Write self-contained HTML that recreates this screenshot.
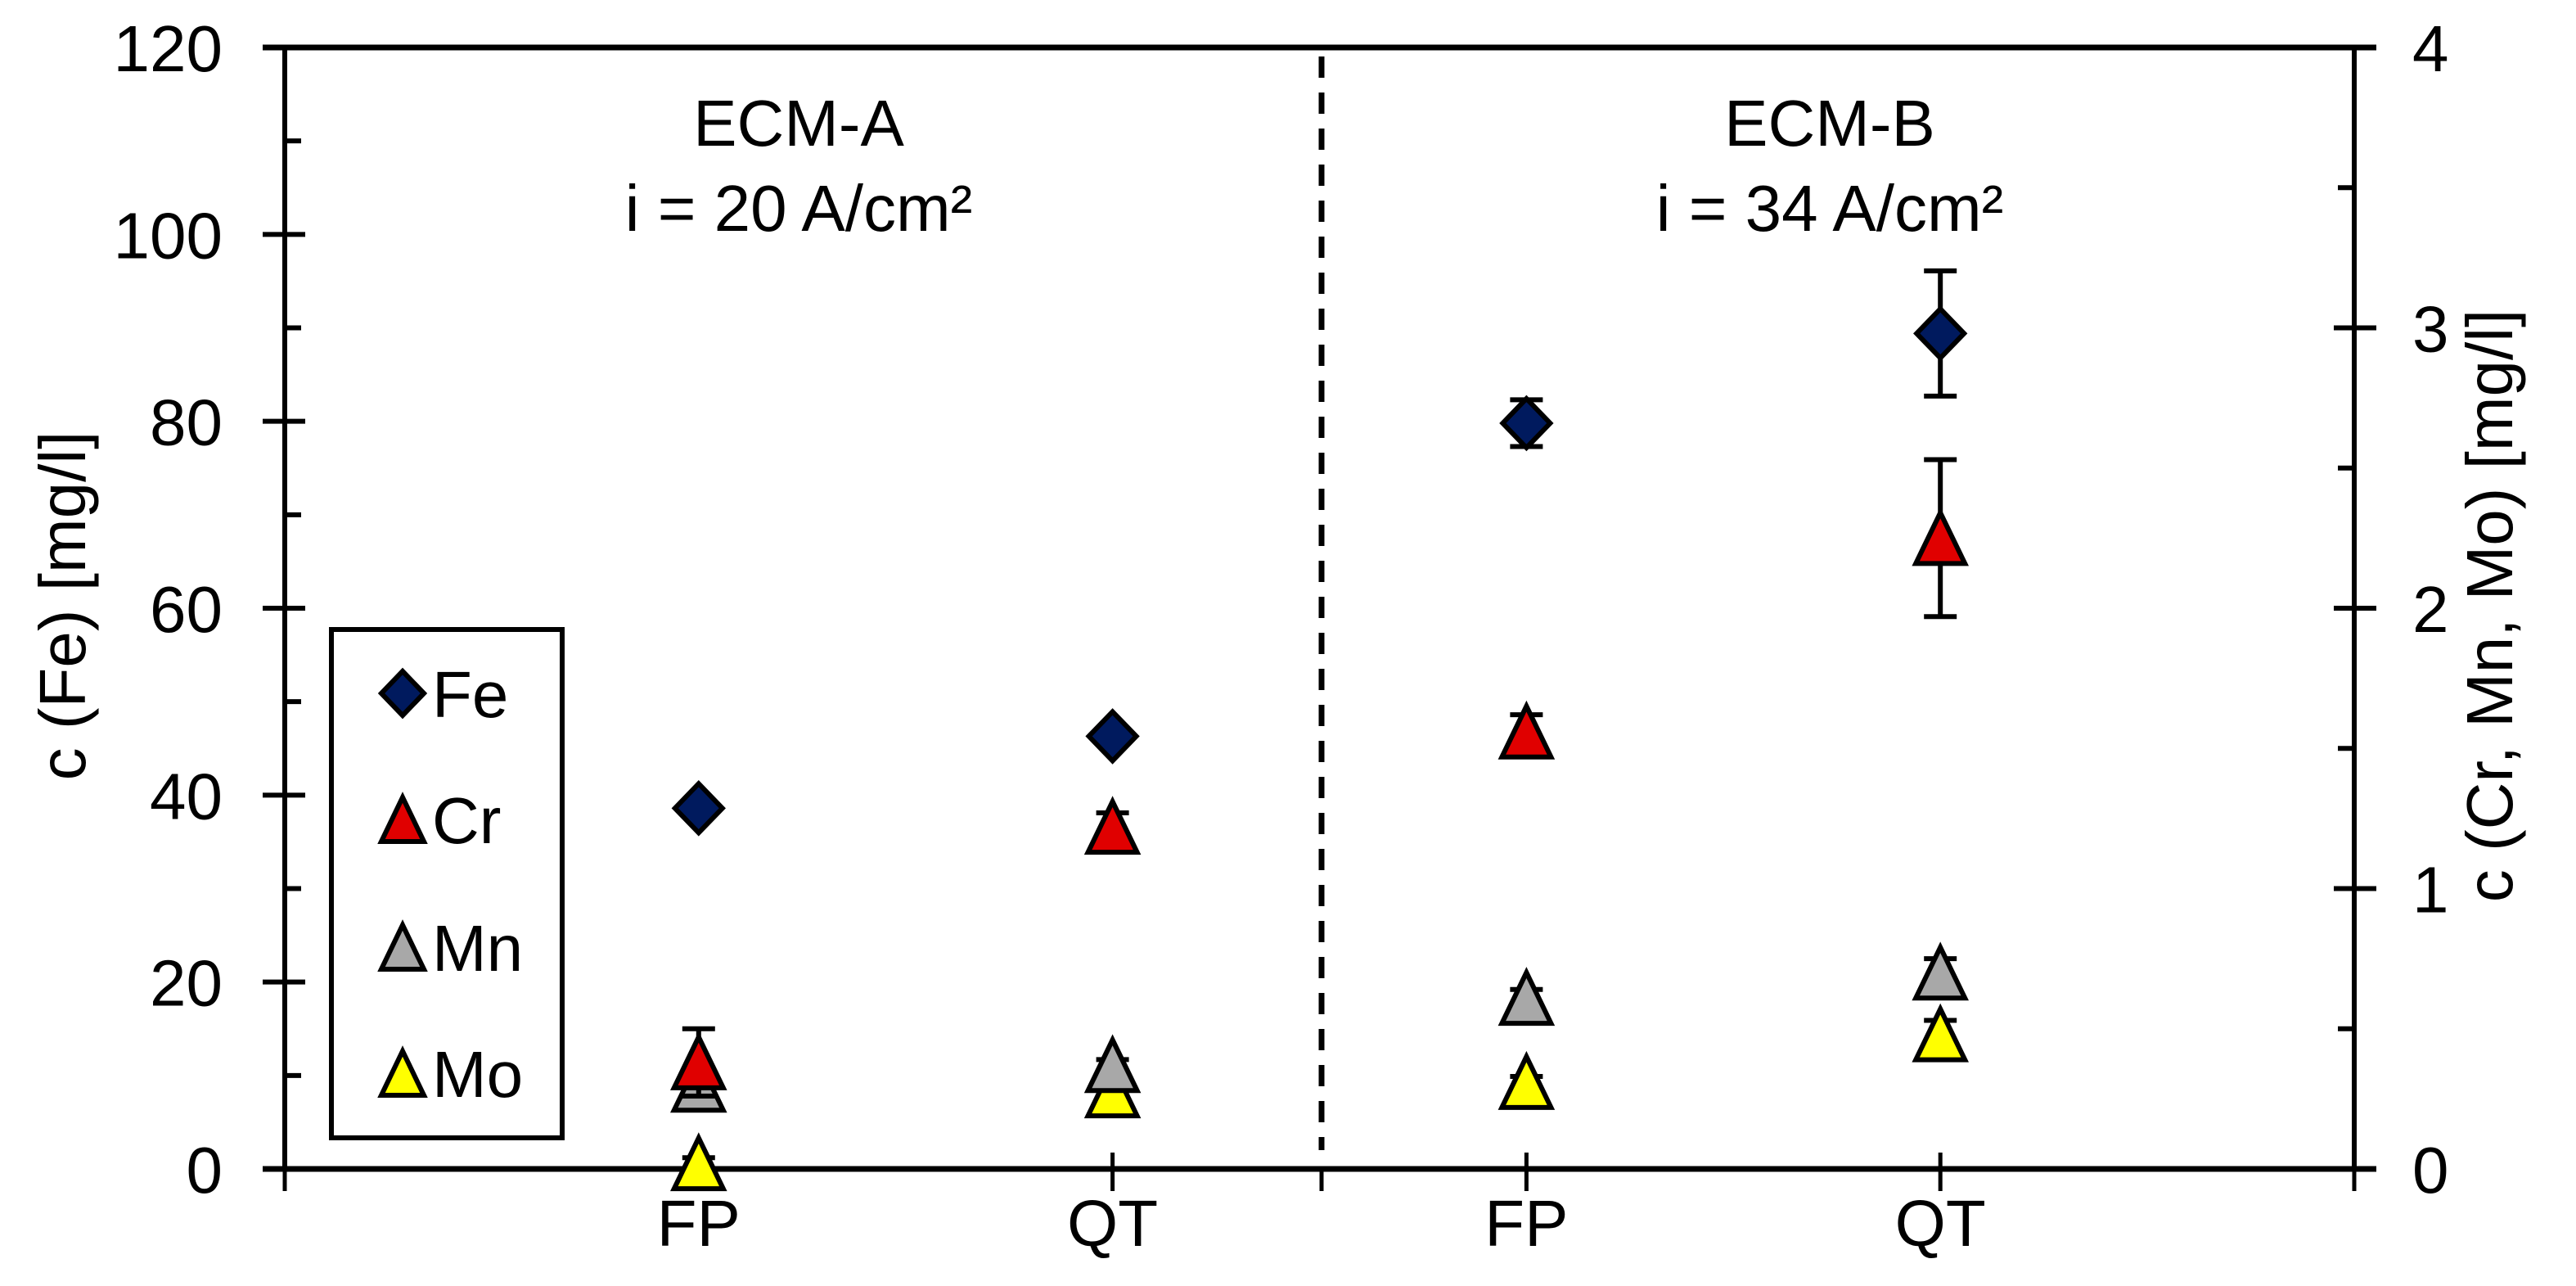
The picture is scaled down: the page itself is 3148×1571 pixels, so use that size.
<!DOCTYPE html>
<html><head><meta charset="utf-8"><style>
html,body{margin:0;padding:0;background:#fff;}
svg{display:block;font-family:"Liberation Sans",Arial,sans-serif;}
</style></head><body>
<svg id="chart" width="3148" height="1571" viewBox="0 0 3148 1571" xmlns="http://www.w3.org/2000/svg">
<g id="axes"></g>
<g id="marks"></g>
<g id="legend">
  <rect x="405" y="769" width="282" height="621" fill="#fff" stroke="#000" stroke-width="6"/>
</g>
<text x="976" y="178" font-size="80" text-anchor="middle">ECM-A</text>
<text x="976" y="282" font-size="80" text-anchor="middle">i = 20 A/cm²</text>
<text x="2236" y="178" font-size="80" text-anchor="middle">ECM-B</text>
<text x="2236" y="282" font-size="80" text-anchor="middle">i = 34 A/cm²</text>
<text font-size="80" text-anchor="middle" transform="translate(104,740) rotate(-90)">c (Fe) [mg/l]</text>
<text font-size="80" text-anchor="middle" transform="translate(3070,740) rotate(-90)">c (Cr, Mn, Mo) [mg/l]</text>
</svg>
<script>
const categories = ["FP","QT","FP","QT"];
const feValues = [38.6, 46.3, 79.8, 89.4];
const feErrors = [0, 0, 2.5, 6.7];
const crValues = [0.38, 1.22, 1.56, 2.25];
const crErrors = [0.12, 0.05, 0.06, 0.28];
const mnValues = [0.30, 0.37, 0.61, 0.70];
const mnErrors = [0, 0.02, 0.03, 0.05];
const moValues = [0.02, 0.28, 0.31, 0.48];
const moErrors = [0.02, 0.02, 0.02, 0.05];
const leftTicks = [0,20,40,60,80,100,120];
const rightTicks = [0,1,2,3,4];

const NS = "http://www.w3.org/2000/svg";
const X0 = 348, X1 = 2877, Y0 = 1428, Y1 = 58;
const yL = v => Y0 - (v/120)*(Y0-Y1);
const yR = v => Y0 - (v/4)*(Y0-Y1);
const xC = i => X0 + (X1-X0)*(i+1)/5;
function mk(tag, attrs, parent){ const e=document.createElementNS(NS,tag); for(const k in attrs) e.setAttribute(k,attrs[k]); parent.appendChild(e); return e; }
const axes=document.getElementById('axes'), marks=document.getElementById('marks'), legend=document.getElementById('legend');

let l;
l=mk('line',{x1:X0,y1:Y1,x2:X0,y2:Y0,stroke:'#000','stroke-width':6},axes);
 
l=mk('line',{x1:X1,y1:Y1,x2:X1,y2:Y0,stroke:'#000','stroke-width':6},axes);
 
l=mk('line',{x1:X0-27,y1:Y0,x2:X1+27,y2:Y0,stroke:'#000','stroke-width':7},axes);
 
l=mk('line',{x1:X0-27,y1:Y1,x2:X1+27,y2:Y1,stroke:'#000','stroke-width':7},axes);
 
l=mk('line',{x1:1615,y1:69,x2:1615,y2:1405,stroke:'#000','stroke-width':7,'stroke-dasharray':'26 18'},axes);
 

leftTicks.forEach(v=>{
  const y=yL(v);
  const t=mk('line',{x1:X0-27,y1:y,x2:X0+25,y2:y,stroke:'#000','stroke-width':6},axes);
   
  if(v<120){ const m=mk('line',{x1:X0,y1:yL(v+10),x2:X0+20,y2:yL(v+10),stroke:'#000','stroke-width':6},axes);
      }
  const tx=mk('text',{x:272,y:y+29,'font-size':80,'text-anchor':'end'},axes); tx.textContent=v;
   
});
rightTicks.forEach(v=>{
  const y=yR(v);
  const t=mk('line',{x1:X1-25,y1:y,x2:X1+27,y2:y,stroke:'#000','stroke-width':6},axes);
   
  if(v<4){ const m=mk('line',{x1:X1-20,y1:yR(v+0.5),x2:X1,y2:yR(v+0.5),stroke:'#000','stroke-width':6},axes);
      }
  const tx=mk('text',{x:2948,y:y+29,'font-size':80,'text-anchor':'start'},axes); tx.textContent=v;
   
});
[X0,1615,X1].forEach(x=>{
  const t=mk('line',{x1:x,y1:Y0,x2:x,y2:Y0+27,stroke:'#000','stroke-width':5},axes);
   
});
categories.forEach((c,i)=>{
  const x=xC(i);
  const t=mk('line',{x1:x,y1:Y0-20,x2:x,y2:Y0+27,stroke:'#000','stroke-width':5},axes);
   
  const tx=mk('text',{x:x,y:1522,'font-size':80,'text-anchor':'middle'},axes); tx.textContent=c;
   
});

function errBar(x,v,e,sc,name){
  if(!e) return;
  const g=mk('g',{stroke:'#000','stroke-width':6},marks);
   
  const a=sc(v+e), b=sc(v-e);
  mk('line',{x1:x,y1:a,x2:x,y2:b},g);
  mk('line',{x1:x-20,y1:a,x2:x+20,y2:a},g);
  mk('line',{x1:x-20,y1:b,x2:x+20,y2:b},g);
}
function diamond(x,y,w,h,parent){ return mk('polygon',{points:`${x},${y-h/2} ${x+w/2},${y} ${x},${y+h/2} ${x-w/2},${y}`,fill:'#001a5e',stroke:'#000','stroke-width':6,'stroke-linejoin':'miter'},parent); }
function tri(x,y,w,h,fill,parent){ return mk('polygon',{points:`${x},${y-h/2} ${x+w/2},${y+h/2} ${x-w/2},${y+h/2}`,fill:fill,stroke:'#000','stroke-width':6},parent); }

const triSeries=[["mo",moValues,moErrors,'#ffff00'],["mn",mnValues,mnErrors,'#a8a8a8'],["cr",crValues,crErrors,'#e00000']];
categories.forEach((c,i)=>{
  const x=xC(i);
  triSeries.forEach(([n,vals,errs,col])=>{
    errBar(x,vals[i],errs[i],yR,n);
    const p=tri(x,yR(vals[i]),60,62,col,marks);
     
  });
  errBar(x,feValues[i],feErrors[i],yL,'fe');
  const d=diamond(x,yL(feValues[i]),58,60,marks);
   
});

const legendNames=["Fe","Cr","Mn","Mo"], legendFills=['#001a5e','#e00000','#a8a8a8','#ffff00'], legendY=[847,1001,1157,1311];
legendNames.forEach((n,i)=>{
  const g=mk('g',{},legend);
   
  if(i===0) diamond(492,legendY[i],52,54,g); else tri(492,legendY[i],52,54,legendFills[i],g);
  const t=mk('text',{x:528,y:legendY[i]+29,'font-size':80},g); t.textContent=n;
});
</script>
</body></html>
